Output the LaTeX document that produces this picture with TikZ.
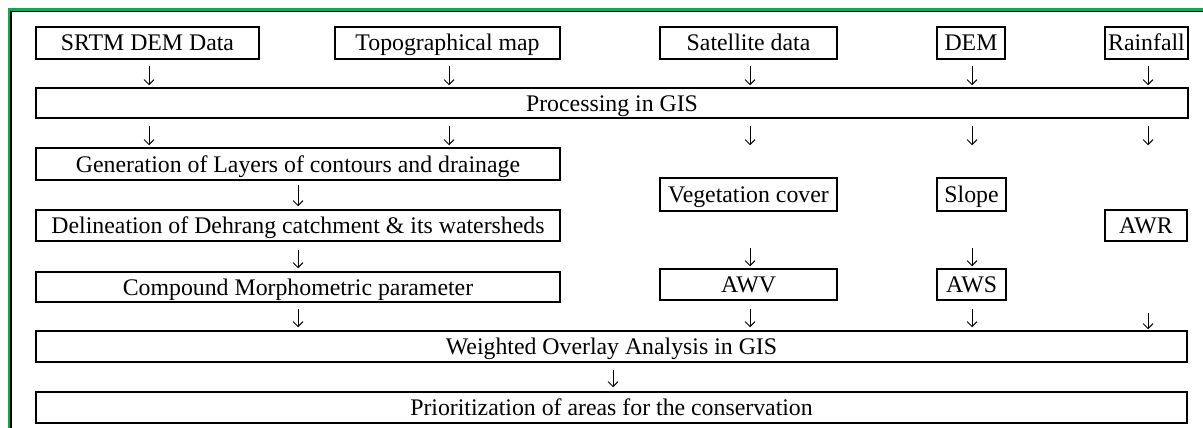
\documentclass[tikz,border=0pt]{standalone}
\usepackage{fontspec}
\setmainfont{Liberation Serif}
\usetikzlibrary{arrows.meta}
\definecolor{framegreen}{RGB}{20,165,85}
\begin{document}
\begin{tikzpicture}[x=1pt,y=-1pt,
  box/.style={draw, line width=1.5pt, inner sep=0pt, text height=20pt, text depth=4pt,
    font=\fontsize{23.8}{28}\selectfont},
  arr/.style={line width=0.9pt, -{Straight Barb[length=5pt,width=10pt,line width=0.9pt]}}]
\useasboundingbox (0,0) rectangle (1203,428);
\begin{scope}
\clip (0,0) rectangle (1203,428);
\draw[framegreen, line width=2.6pt] (9.3,9.8) rectangle (1230,450);
\draw[black, line width=1.1pt] (11,11.6) rectangle (1230,450);
\end{scope}
% column coordinates
\coordinate (c1) at (149,0);
\coordinate (c2) at (449,0);
\coordinate (c3) at (750,0);
\coordinate (c4) at (972,0);
\coordinate (c5) at (1148,0);
\coordinate (cg) at (298,0);
\coordinate (cw) at (613,0);
% row 1
\node[box, minimum width=223pt, minimum height=32pt] (srtm) at (147.5,43) {SRTM DEM Data};
\node[box, minimum width=225pt, minimum height=32pt] (topo) at (447.5,43) {Topographical map};
\node[box, minimum width=177pt, minimum height=32pt] (sat) at (748.5,43) {Satellite data};
\node[box, minimum width=68pt, minimum height=32pt] (dem) at (971,43) {DEM};
\node[box, minimum width=83pt, minimum height=32pt] (rain) at (1146.5,43) {Rainfall};
% processing
\node[box, minimum width=1152pt, minimum height=30pt] (proc) at (612,103) {Processing in GIS};
% left column
\node[box, minimum width=524pt, minimum height=32pt] (gen) at (298,164) {Generation of Layers of contours and drainage};
\node[box, minimum width=524pt, minimum height=31pt] (del) at (298,225.5) {Delineation of Dehrang catchment \& its watersheds};
\node[box, minimum width=524pt, minimum height=30pt] (comp) at (298,287) {Compound Morphometric parameter};
% middle/right columns
\node[box, minimum width=177pt, minimum height=33pt] (veg) at (748.5,194.5) {Vegetation cover};
\node[box, minimum width=69pt, minimum height=33pt] (slope) at (971.5,194.5) {Slope};
\node[box, minimum width=177pt, minimum height=31pt] (awv) at (748.5,284.5) {AWV};
\node[box, minimum width=69pt, minimum height=31pt] (aws) at (971.5,284.5) {AWS};
\node[box, minimum width=82pt, minimum height=31pt] (awr) at (1146,225.5) {AWR};
% bottom
\node[box, minimum width=1151pt, minimum height=31pt] (wt) at (611.5,346.5) {Weighted Overlay Analysis in GIS};
\node[box, minimum width=1151pt, minimum height=31pt] (pri) at (611.5,407.5) {Prioritization of areas for the conservation};
% arrows row 1 -> processing
\draw[arr, shorten <=6pt, shorten >=2pt] (srtm.south -| c1) -- (proc.north -| c1);
\draw[arr, shorten <=6pt, shorten >=2pt] (topo.south -| c2) -- (proc.north -| c2);
\draw[arr, shorten <=6pt, shorten >=2pt] (sat.south -| c3) -- (proc.north -| c3);
\draw[arr, shorten <=6pt, shorten >=2pt] (dem.south -| c4) -- (proc.north -| c4);
\draw[arr, shorten <=6pt, shorten >=2pt] (rain.south -| c5) -- (proc.north -| c5);
% processing -> next
\draw[arr, shorten <=7pt, shorten >=2pt] (proc.south -| c1) -- (gen.north -| c1);
\draw[arr, shorten <=7pt, shorten >=2pt] (proc.south -| c2) -- (gen.north -| c2);
\draw[arr, shorten <=7pt, shorten >=32pt] (proc.south -| c3) -- (veg.north -| c3);
\draw[arr, shorten <=7pt, shorten >=32pt] (proc.south -| c4) -- (slope.north -| c4);
\draw[arr, shorten <=7pt, shorten >=64pt] (proc.south -| c5) -- (awr.north -| c5);
% left column chain
\draw[arr, shorten <=4pt, shorten >=3pt] (gen.south -| cg) -- (del.north -| cg);
\draw[arr, shorten <=8pt, shorten >=3pt] (del.south -| cg) -- (comp.north -| cg);
% veg/slope -> awv/aws
\draw[arr, shorten <=36pt, shorten >=2pt] (veg.south -| c3) -- (awv.north -| c3);
\draw[arr, shorten <=36pt, shorten >=2pt] (slope.south -| c4) -- (aws.north -| c4);
% into weighted overlay
\draw[arr, shorten <=6pt, shorten >=3pt] (comp.south -| cg) -- (wt.north -| cg);
\draw[arr, shorten <=8pt, shorten >=3pt] (awv.south -| c3) -- (wt.north -| c3);
\draw[arr, shorten <=8pt, shorten >=3pt] (aws.south -| c4) -- (wt.north -| c4);
\draw[arr, shorten <=71pt, shorten >=1pt] (awr.south -| c5) -- (wt.north -| c5);
% weighted -> prioritization
\draw[arr, shorten <=7pt, shorten >=4pt] (wt.south -| cw) -- (pri.north -| cw);
\end{tikzpicture}
\end{document}
